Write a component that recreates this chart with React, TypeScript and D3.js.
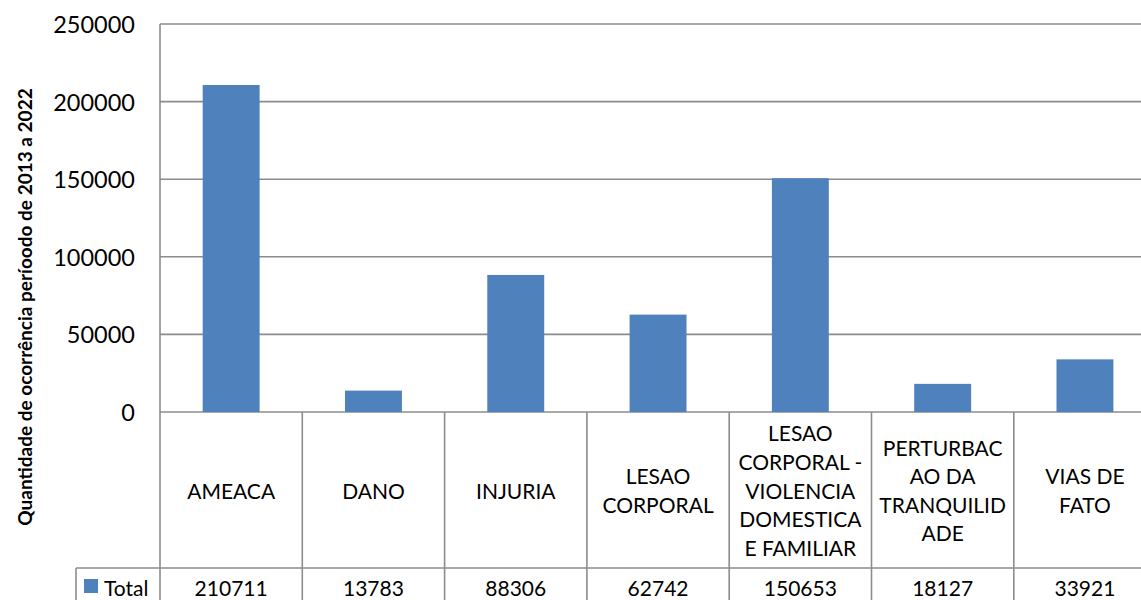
import React from "react";
import * as d3 from "d3";

const categories: string[][] = [
  ["AMEACA"],
  ["DANO"],
  ["INJURIA"],
  ["LESAO", "CORPORAL"],
  ["LESAO", "CORPORAL -", "VIOLENCIA", "DOMESTICA", "E FAMILIAR"],
  ["PERTURBAC", "AO DA", "TRANQUILID", "ADE"],
  ["VIAS DE", "FATO"],
];
const totals: number[] = [210711, 13783, 88306, 62742, 150653, 18127, 33921];
const yTicks: number[] = [0, 50000, 100000, 150000, 200000, 250000];
const seriesName = "Total";
const yTitle = "Quantidade de ocorrência períoodo de 2013 a 2022";

const W = 1141;
const H = 600;
const plotLeft = 160;
const colW = 142.3;
const plotTop = 24;
const plotBottom = 412;
const catRowBottom = 568;
const font = "Lato, 'Open Sans', sans-serif";
const grid = "#8c8c8c";
const barColor = "#4F81BD";

export default function App() {
  const keys = categories.map((_, i) => String(i));
  const x = d3
    .scaleBand<string>()
    .domain(keys)
    .range([plotLeft, plotLeft + colW * categories.length])
    .paddingInner(0.6)
    .paddingOuter(0.3);
  const xc = d3
    .scaleBand<string>()
    .domain(keys)
    .range([plotLeft, plotLeft + colW * categories.length]);
  const y = d3.scaleLinear().domain([0, 250000]).range([plotBottom, plotTop]);
  const right = plotLeft + colW * categories.length;
  const lineH = 28.6;
  const catMid = (plotBottom + catRowBottom) / 2;

  return (
    <svg
      width={W}
      height={H}
      style={{ position: "absolute", left: 0, top: 0, background: "#fff" }}
      fontFamily={font}
    >
      <rect x={0} y={0} width={W} height={H} fill="#fff" />
      {/* gridlines */}
      {yTicks.map((t) => (
        <line
          key={t}
          x1={plotLeft}
          x2={right}
          y1={y(t)}
          y2={y(t)}
          stroke={grid}
          strokeWidth={1.6}
        />
      ))}
      {/* tick labels */}
      {yTicks.map((t) => (
        <text
          key={"l" + t}
          x={135}
          y={y(t)}
          textAnchor="end"
          dominantBaseline="central"
          fontSize={23.5}
          fill="#000"
        >
          {t}
        </text>
      ))}
      {/* bars */}
      {totals.map((v, i) => (
        <rect
          key={i}
          x={x(String(i))}
          width={x.bandwidth()}
          y={y(v)}
          height={y(0) - y(v)}
          fill={barColor}
        />
      ))}
      {/* table vertical lines */}
      {d3.range(categories.length + 1).map((i) => {
        const xx = plotLeft + colW * i;
        return (
          <line
            key={"v" + i}
            x1={xx}
            x2={xx}
            y1={i === 0 ? plotTop : plotBottom}
            y2={H}
            stroke={grid}
            strokeWidth={1.6}
          />
        );
      })}
      {/* total row top */}
      <line x1={76} x2={right} y1={catRowBottom} y2={catRowBottom} stroke={grid} strokeWidth={1.6} />
      <line x1={76} x2={76} y1={catRowBottom} y2={H} stroke={grid} strokeWidth={1.6} />
      {/* category labels */}
      {categories.map((lines, i) => {
        const cx = (xc(String(i)) as number) + xc.bandwidth() / 2;
        const start = catMid - ((lines.length - 1) * lineH) / 2;
        return lines.map((ln, j) => (
          <text
            key={"c" + i + "-" + j}
            x={cx}
            y={start + j * lineH}
            textAnchor="middle"
            dominantBaseline="central"
            fontSize={21}
            fill="#000"
          >
            {ln}
          </text>
        ));
      })}
      {/* totals */}
      {totals.map((v, i) => {
        const cx = (xc(String(i)) as number) + xc.bandwidth() / 2;
        return (
          <text
            key={"t" + i}
            x={cx}
            y={587}
            textAnchor="middle"
            dominantBaseline="central"
            fontSize={21}
            fill="#000"
          >
            {v}
          </text>
        );
      })}
      {/* legend */}
      <rect x={84} y={579} width={14} height={14} fill={barColor} />
      <text x={104} y={587} dominantBaseline="central" fontSize={21} fill="#000">
        {seriesName}
      </text>
      {/* y title */}
      <text
        transform={`translate(24, 307) rotate(-90)`}
        textAnchor="middle"
        dominantBaseline="central"
        fontSize={19}
        fontWeight="bold"
        fill="#000"
      >
        {yTitle}
      </text>
    </svg>
  );
}
